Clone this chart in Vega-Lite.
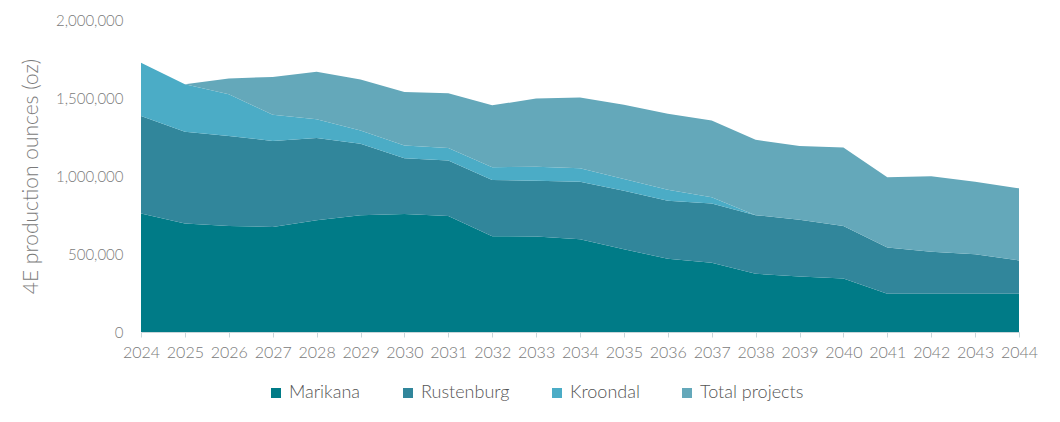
{
  "$schema": "https://vega.github.io/schema/vega-lite/v6.json",
  "width": 878,
  "height": 312,
  "autosize": {"type": "none"},
  "padding": {"left": 141, "top": 20, "right": 41, "bottom": 90},
  "background": "white",
  "config": {
    "view": {"stroke": null},
    "font": "Lato",
    "axis": {"labelFont": "Lato", "titleFont": "Lato", "labelColor": "#7A7A7A", "titleColor": "#7A7A7A", "labelFontWeight": 300, "titleFontWeight": 300},
    "legend": {"labelFont": "Lato", "labelColor": "#555555", "labelFontWeight": 300}
  },
  "data": {
    "values": [
      {"year": 2024, "series": "Marikana", "ord": 1, "oz": 760000},
      {"year": 2025, "series": "Marikana", "ord": 1, "oz": 695000},
      {"year": 2026, "series": "Marikana", "ord": 1, "oz": 680000},
      {"year": 2027, "series": "Marikana", "ord": 1, "oz": 673000},
      {"year": 2028, "series": "Marikana", "ord": 1, "oz": 717000},
      {"year": 2029, "series": "Marikana", "ord": 1, "oz": 749000},
      {"year": 2030, "series": "Marikana", "ord": 1, "oz": 757000},
      {"year": 2031, "series": "Marikana", "ord": 1, "oz": 744000},
      {"year": 2032, "series": "Marikana", "ord": 1, "oz": 614000},
      {"year": 2033, "series": "Marikana", "ord": 1, "oz": 612000},
      {"year": 2034, "series": "Marikana", "ord": 1, "oz": 594000},
      {"year": 2035, "series": "Marikana", "ord": 1, "oz": 530000},
      {"year": 2036, "series": "Marikana", "ord": 1, "oz": 470000},
      {"year": 2037, "series": "Marikana", "ord": 1, "oz": 444000},
      {"year": 2038, "series": "Marikana", "ord": 1, "oz": 373000},
      {"year": 2039, "series": "Marikana", "ord": 1, "oz": 356000},
      {"year": 2040, "series": "Marikana", "ord": 1, "oz": 343000},
      {"year": 2041, "series": "Marikana", "ord": 1, "oz": 245000},
      {"year": 2042, "series": "Marikana", "ord": 1, "oz": 245000},
      {"year": 2043, "series": "Marikana", "ord": 1, "oz": 245000},
      {"year": 2044, "series": "Marikana", "ord": 1, "oz": 245000},
      {"year": 2024, "series": "Rustenburg", "ord": 2, "oz": 624000},
      {"year": 2025, "series": "Rustenburg", "ord": 2, "oz": 588000},
      {"year": 2026, "series": "Rustenburg", "ord": 2, "oz": 576000},
      {"year": 2027, "series": "Rustenburg", "ord": 2, "oz": 552000},
      {"year": 2028, "series": "Rustenburg", "ord": 2, "oz": 526000},
      {"year": 2029, "series": "Rustenburg", "ord": 2, "oz": 457000},
      {"year": 2030, "series": "Rustenburg", "ord": 2, "oz": 357000},
      {"year": 2031, "series": "Rustenburg", "ord": 2, "oz": 355000},
      {"year": 2032, "series": "Rustenburg", "ord": 2, "oz": 360000},
      {"year": 2033, "series": "Rustenburg", "ord": 2, "oz": 358000},
      {"year": 2034, "series": "Rustenburg", "ord": 2, "oz": 369000},
      {"year": 2035, "series": "Rustenburg", "ord": 2, "oz": 375000},
      {"year": 2036, "series": "Rustenburg", "ord": 2, "oz": 371000},
      {"year": 2037, "series": "Rustenburg", "ord": 2, "oz": 380000},
      {"year": 2038, "series": "Rustenburg", "ord": 2, "oz": 376000},
      {"year": 2039, "series": "Rustenburg", "ord": 2, "oz": 363000},
      {"year": 2040, "series": "Rustenburg", "ord": 2, "oz": 337000},
      {"year": 2041, "series": "Rustenburg", "ord": 2, "oz": 296000},
      {"year": 2042, "series": "Rustenburg", "ord": 2, "oz": 270000},
      {"year": 2043, "series": "Rustenburg", "ord": 2, "oz": 253000},
      {"year": 2044, "series": "Rustenburg", "ord": 2, "oz": 214000},
      {"year": 2024, "series": "Kroondal", "ord": 3, "oz": 342000},
      {"year": 2025, "series": "Kroondal", "ord": 3, "oz": 305000},
      {"year": 2026, "series": "Kroondal", "ord": 3, "oz": 268000},
      {"year": 2027, "series": "Kroondal", "ord": 3, "oz": 168000},
      {"year": 2028, "series": "Kroondal", "ord": 3, "oz": 120000},
      {"year": 2029, "series": "Kroondal", "ord": 3, "oz": 86000},
      {"year": 2030, "series": "Kroondal", "ord": 3, "oz": 81000},
      {"year": 2031, "series": "Kroondal", "ord": 3, "oz": 81000},
      {"year": 2032, "series": "Kroondal", "ord": 3, "oz": 82000},
      {"year": 2033, "series": "Kroondal", "ord": 3, "oz": 90000},
      {"year": 2034, "series": "Kroondal", "ord": 3, "oz": 87000},
      {"year": 2035, "series": "Kroondal", "ord": 3, "oz": 76000},
      {"year": 2036, "series": "Kroondal", "ord": 3, "oz": 71000},
      {"year": 2037, "series": "Kroondal", "ord": 3, "oz": 39000},
      {"year": 2038, "series": "Kroondal", "ord": 3, "oz": 0},
      {"year": 2039, "series": "Kroondal", "ord": 3, "oz": 0},
      {"year": 2040, "series": "Kroondal", "ord": 3, "oz": 0},
      {"year": 2041, "series": "Kroondal", "ord": 3, "oz": 0},
      {"year": 2042, "series": "Kroondal", "ord": 3, "oz": 0},
      {"year": 2043, "series": "Kroondal", "ord": 3, "oz": 0},
      {"year": 2044, "series": "Kroondal", "ord": 3, "oz": 0},
      {"year": 2024, "series": "Total projects", "ord": 4, "oz": 0},
      {"year": 2025, "series": "Total projects", "ord": 4, "oz": 0},
      {"year": 2026, "series": "Total projects", "ord": 4, "oz": 101000},
      {"year": 2027, "series": "Total projects", "ord": 4, "oz": 242000},
      {"year": 2028, "series": "Total projects", "ord": 4, "oz": 305000},
      {"year": 2029, "series": "Total projects", "ord": 4, "oz": 326000},
      {"year": 2030, "series": "Total projects", "ord": 4, "oz": 344000},
      {"year": 2031, "series": "Total projects", "ord": 4, "oz": 350000},
      {"year": 2032, "series": "Total projects", "ord": 4, "oz": 397000},
      {"year": 2033, "series": "Total projects", "ord": 4, "oz": 436000},
      {"year": 2034, "series": "Total projects", "ord": 4, "oz": 454000},
      {"year": 2035, "series": "Total projects", "ord": 4, "oz": 476000},
      {"year": 2036, "series": "Total projects", "ord": 4, "oz": 487000},
      {"year": 2037, "series": "Total projects", "ord": 4, "oz": 493000},
      {"year": 2038, "series": "Total projects", "ord": 4, "oz": 483000},
      {"year": 2039, "series": "Total projects", "ord": 4, "oz": 474000},
      {"year": 2040, "series": "Total projects", "ord": 4, "oz": 502000},
      {"year": 2041, "series": "Total projects", "ord": 4, "oz": 451000},
      {"year": 2042, "series": "Total projects", "ord": 4, "oz": 483000},
      {"year": 2043, "series": "Total projects", "ord": 4, "oz": 465000},
      {"year": 2044, "series": "Total projects", "ord": 4, "oz": 462000}
    ]
  },
  "mark": {"type": "area", "interpolate": "linear"},
  "encoding": {
    "x": {
      "field": "year",
      "type": "quantitative",
      "scale": {"domain": [2024, 2044], "nice": false, "zero": false},
      "axis": {
        "title": null,
        "values": [2024,2025,2026,2027,2028,2029,2030,2031,2032,2033,2034,2035,2036,2037,2038,2039,2040,2041,2042,2043,2044],
        "format": "d",
        "grid": false,
        "domainColor": "#C9D6DA",
        "tickColor": "#C9D6DA",
        "tickSize": 5,
        "labelFontSize": 16,
        "labelPadding": 7,
        "labelFlush": false
      }
    },
    "y": {
      "field": "oz",
      "type": "quantitative",
      "stack": "zero",
      "scale": {"domain": [0, 2000000], "nice": false},
      "axis": {
        "title": "4E production ounces (oz)",
        "values": [0, 500000, 1000000, 1500000, 2000000],
        "format": ",d",
        "grid": false,
        "domain": false,
        "ticks": false,
        "labelFontSize": 15,
        "labelPadding": 18,
        "titleFontSize": 21,
        "titlePadding": 14
      }
    },
    "color": {
      "field": "series",
      "type": "nominal",
      "sort": ["Marikana", "Rustenburg", "Kroondal", "Total projects"],
      "scale": {
        "domain": ["Marikana", "Rustenburg", "Kroondal", "Total projects"],
        "range": ["#007B87", "#31869B", "#4BACC6", "#64A8BA"]
      },
      "legend": {
        "title": null,
        "orient": "none",
        "legendX": 126,
        "legendY": 364,
        "direction": "horizontal",
        "symbolType": "square",
        "symbolSize": 100,
        "symbolStrokeWidth": 0,
        "labelFontSize": 18,
        "labelOffset": 4,
        "columnPadding": 38
      }
    },
    "order": {"field": "ord", "type": "quantitative"}
  }
}
